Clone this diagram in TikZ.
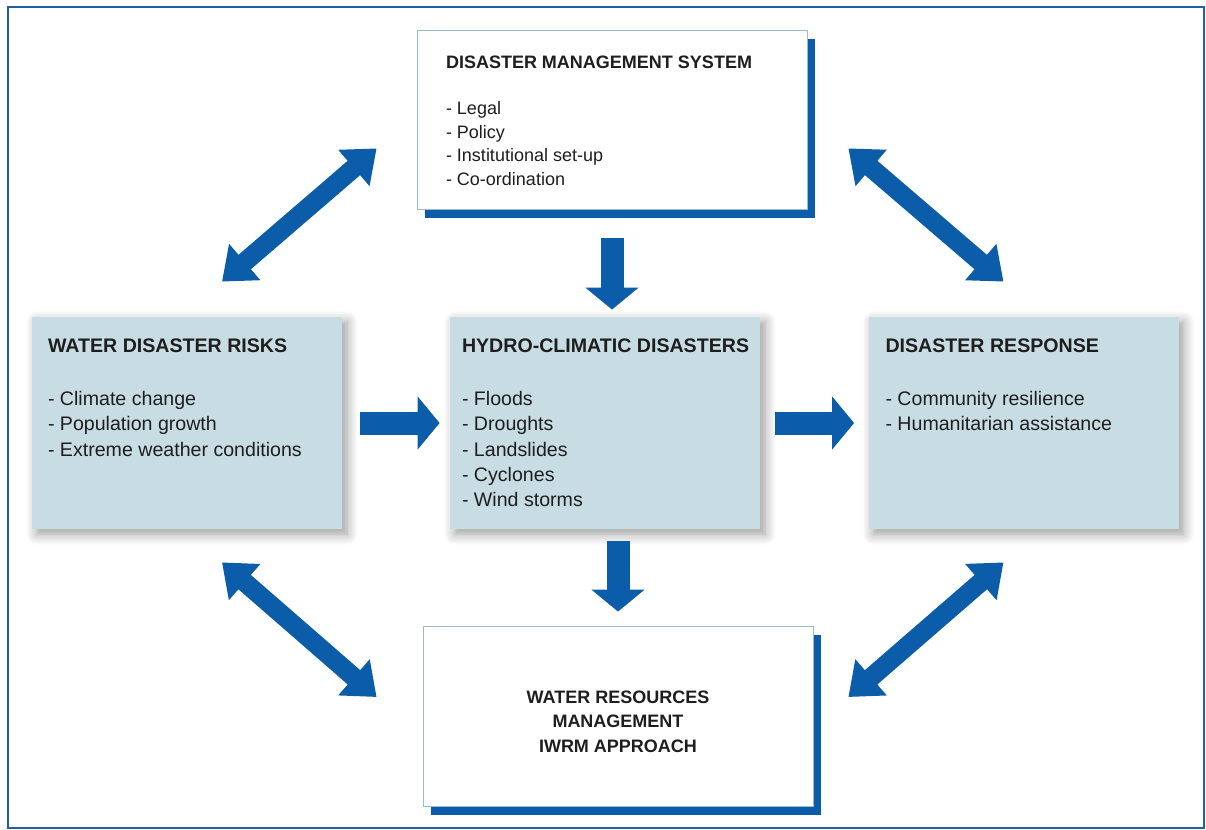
\documentclass[tikz,border=0pt]{standalone}
\usepackage{fontspec}
\setmainfont{Liberation Sans}
\usetikzlibrary{arrows.meta,shadows,shadows.blur,calc}
\definecolor{flowblue}{HTML}{0B5DAA}
\definecolor{frameblue}{HTML}{1F5FA6}
\definecolor{panelfill}{HTML}{C8DCE4}
\definecolor{cardline}{HTML}{9DB9CC}
\definecolor{inkgray}{HTML}{1E1E1E}
\newcommand\gap{13.8pt}

\begin{document}
\begin{tikzpicture}[x=0.5pt, y=-0.5pt,
    panel/.style = {rectangle, fill=panelfill, minimum width=155pt, minimum height=106pt, blur shadow={shadow xshift=2.5pt, shadow yshift=-2.5pt, shadow blur radius=5.5pt, shadow blur steps=8, shadow opacity=40}},
    card/.style = {rectangle, draw=cardline, line width=0.4pt, fill=white, minimum width=195pt, drop shadow={shadow xshift=4pt, shadow yshift=-4.5pt, fill=flowblue, opacity=1}},
    side/.style = {anchor=north west, inner sep=0pt, align=left, text=inkgray, font=\fontsize{9.8pt}{12.65pt}\selectfont},
    fat/.style = {draw=flowblue, line width=11.5pt, -{Triangle[length=11pt, width=26pt]}},
    twin/.style = {draw=flowblue, line width=9.5pt, {Triangle[length=15pt, width=23pt]}-{Triangle[length=15pt, width=23pt]}}]
    \useasboundingbox (0,0) rectangle (1206,830);
    \draw[frameblue, line width=1.3pt] (8,7) rectangle (1204,828);

    %Boxes
    \node at (612,119.5) [card, minimum height=89.5pt] (dms) {};
    \node at (187,423) [panel] (wdr) {};
    \node at (605,423) [panel] (hcd) {};
    \node at (1023.5,423) [panel] (dr) {};
    \node at (618,716) [card, minimum height=90pt] (wrm) {};

    %Texts
    \node at ([xshift=14.5pt, yshift=-12.8pt]dms.north west) [side, font=\fontsize{9pt}{11.75pt}\selectfont] (dms-txt) {\textbf{DISASTER MANAGEMENT SYSTEM}\\[11.5pt] - Legal\\ - Policy\\ - Institutional set-up\\ - Co-ordination};
    \node at ([xshift=8pt, yshift=-11pt]wdr.north west) [side] (wdr-txt) {\textbf{WATER DISASTER RISKS}\\[\gap] - Climate change\\ - Population growth\\ - Extreme weather conditions};
    \node at ([xshift=6pt, yshift=-11pt]hcd.north west) [side] (hcd-txt) {\textbf{HYDRO-CLIMATIC DISASTERS}\\[\gap] - Floods\\ - Droughts\\ - Landslides\\ - Cyclones\\ - Wind storms};
    \node at ([xshift=8.5pt, yshift=-11pt]dr.north west) [side] (dr-txt) {\textbf{DISASTER RESPONSE}\\[\gap] - Community resilience\\ - Humanitarian assistance};
    \node at ([yshift=-2.75pt]wrm.center) [align=center, inner sep=0pt, text=inkgray, font=\bfseries\fontsize{9pt}{12.25pt}\selectfont] (wrm-txt) {WATER RESOURCES\\ MANAGEMENT\\ IWRM APPROACH};

    %Flow arrows
    \draw[fat, shorten <=14.5pt, shorten >=3.5pt] (dms.south) -- (dms.south |- hcd.north);
    \draw[fat, shorten <=9pt, shorten >=5pt] (wdr.east) -- (hcd.west);
    \draw[fat, shorten <=7.5pt, shorten >=7pt] (hcd.east) -- (dr.west);
    \draw[fat, shorten <=6pt, shorten >=7pt] (wrm.north |- hcd.south) -- (wrm.north);

    %Links
    \draw[twin] ($(wdr.north)+(35,-35)$) -- ($(dms.south west)+(-40,-61)$);
    \draw[twin] ($(dms.south east)+(41,-61)$) -- ($(dr.north)+(-20,-35)$);
    \draw[twin] ($(wdr.south)+(35,33)$) -- ($(wrm.west)+(-46,-19)$);
    \draw[twin] ($(wrm.east)+(35,-19)$) -- ($(dr.south)+(-20,33)$);
\end{tikzpicture}
\end{document}
